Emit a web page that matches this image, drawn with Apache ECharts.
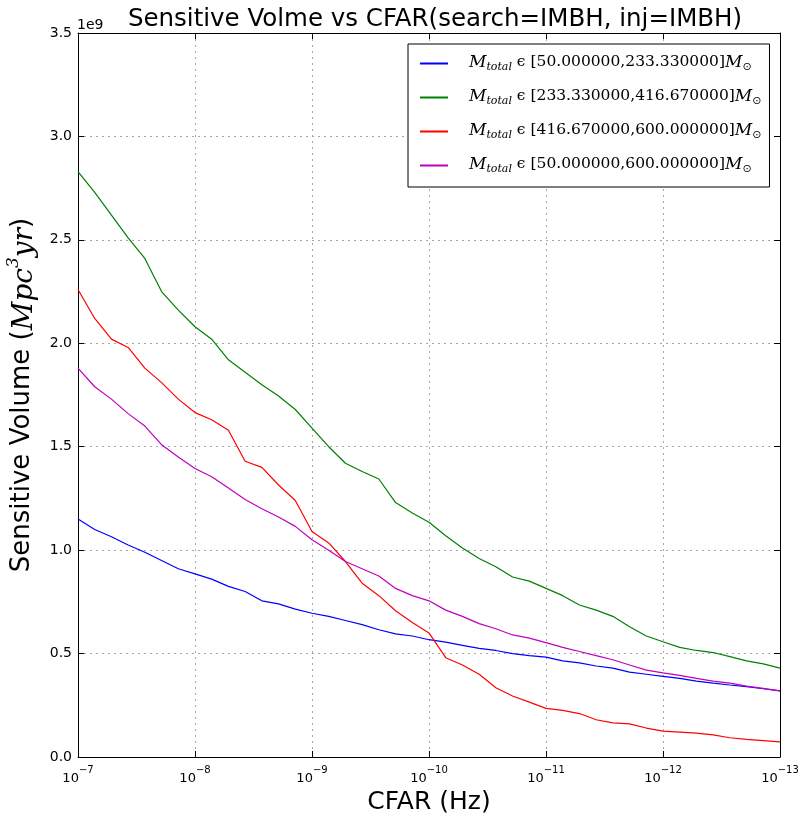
<!DOCTYPE html>
<html>
<head>
<meta charset="utf-8">
<script src="https://cdn.jsdelivr.net/npm/echarts@6/dist/echarts.min.js"></script>
<style>
  html, body { margin: 0; padding: 0; background: #fff; }
  #chart { width: 800px; height: 820px; }
</style>
</head>
<body>
<div id="chart"></div>
<script>
// CFAR (Hz), 7 points per decade from 1e-7 down to 1e-13
const cfar = [
  1e-7, 7.197e-8, 5.179e-8, 3.728e-8, 2.683e-8, 1.931e-8, 1.389e-8,
  1e-8, 7.197e-9, 5.179e-9, 3.728e-9, 2.683e-9, 1.931e-9, 1.389e-9,
  1e-9, 7.197e-10, 5.179e-10, 3.728e-10, 2.683e-10, 1.931e-10, 1.389e-10,
  1e-10, 7.197e-11, 5.179e-11, 3.728e-11, 2.683e-11, 1.931e-11, 1.389e-11,
  1e-11, 7.197e-12, 5.179e-12, 3.728e-12, 2.683e-12, 1.931e-12, 1.389e-12,
  1e-12, 7.197e-13, 5.179e-13, 3.728e-13, 2.683e-13, 1.931e-13, 1.389e-13,
  1e-13
];

// sensitive volume, units of 1e9 Mpc^3 yr
const volLow = [
  1.15, 1.10, 1.065, 1.025, 0.99, 0.95, 0.91,
  0.885, 0.86, 0.825, 0.80, 0.755, 0.74, 0.715,
  0.695, 0.68, 0.66, 0.64, 0.615, 0.595, 0.585,
  0.567, 0.555, 0.54, 0.525, 0.515, 0.50, 0.49,
  0.483, 0.465, 0.455, 0.44, 0.43, 0.41, 0.40,
  0.39, 0.38, 0.367, 0.357, 0.348, 0.34, 0.33,
  0.32
];
const volMid = [
  2.83, 2.73, 2.62, 2.51, 2.41, 2.25, 2.16,
  2.08, 2.02, 1.92, 1.86, 1.80, 1.745, 1.68,
  1.59, 1.50, 1.42, 1.38, 1.344, 1.23, 1.18,
  1.135, 1.07, 1.01, 0.96, 0.92, 0.87, 0.85,
  0.815, 0.78, 0.735, 0.71, 0.68, 0.63, 0.585,
  0.557, 0.53, 0.515, 0.505, 0.485, 0.465, 0.45,
  0.43
];
const volHigh = [
  2.26, 2.12, 2.02, 1.98, 1.88, 1.81, 1.73,
  1.665, 1.63, 1.58, 1.43, 1.40, 1.315, 1.24,
  1.09, 1.035, 0.945, 0.84, 0.78, 0.707, 0.65,
  0.60, 0.48, 0.445, 0.40, 0.335, 0.295, 0.265,
  0.235, 0.225, 0.21, 0.18, 0.165, 0.16, 0.14,
  0.125, 0.12, 0.115, 0.107, 0.093, 0.085, 0.079,
  0.073
];
const volAll = [
  1.88, 1.79, 1.73, 1.66, 1.60, 1.51, 1.45,
  1.395, 1.355, 1.30, 1.245, 1.20, 1.16, 1.115,
  1.05, 1.00, 0.945, 0.91, 0.875, 0.815, 0.78,
  0.755, 0.71, 0.68, 0.645, 0.62, 0.59, 0.575,
  0.553, 0.53, 0.51, 0.49, 0.47, 0.445, 0.42,
  0.407, 0.395, 0.38, 0.367, 0.357, 0.343, 0.332,
  0.32
];

const massRanges = [
  "50.000000,233.330000",
  "233.330000,416.670000",
  "416.670000,600.000000",
  "50.000000,600.000000"
];
const lineColors = ["#0000ff", "#008000", "#ff0000", "#bf00bf"];
const yTicks = [0, 0.5, 1.0, 1.5, 2.0, 2.5, 3.0, 3.5];

const chart = echarts.init(document.getElementById("chart"), null, { renderer: "canvas" });

const pairs = (ys) => cfar.map((x, i) => [x, ys[i]]);
const seriesValues = [volLow, volMid, volHigh, volAll];

const tickStyle = { show: true, inside: true, length: 6, lineStyle: { color: "#000", width: 1 } };
const gridLine = { show: true, lineStyle: { color: "#a8a8a8", type: [2, 4], width: 1 } };

const logAxis = {
  type: "log",
  logBase: 10,
  min: 1e-13,
  max: 1e-7,
  interval: 1,
  inverse: true,
  axisLine: { show: true, onZero: false, lineStyle: { color: "#000", width: 1 } },
  axisTick: tickStyle,
  minorTick: { show: false }
};
const valAxis = {
  type: "value",
  min: 0,
  max: 3.5,
  interval: 0.5,
  axisLine: { show: true, onZero: false, lineStyle: { color: "#000", width: 1 } },
  axisTick: tickStyle
};

const option = {
  animation: false,
  backgroundColor: "#fff",
  textStyle: { fontFamily: "DejaVu Sans" },
  title: {
    text: "Sensitive Volme vs CFAR(search=IMBH, inj=IMBH)",
    left: 430,
    textAlign: "center",
    top: 2,
    textStyle: { fontSize: 24.5, fontWeight: "normal", color: "#000", fontFamily: "DejaVu Sans" }
  },
  grid: { left: 78, right: 20, top: 33, bottom: 63, outerBoundsMode: "none" },
  graphic: [
    { type: "text", left: 77, top: 18, style: { text: "1e9", fontSize: 14, fill: "#000", fontFamily: "DejaVu Sans" } }
  ],
  legend: {
    orient: "vertical",
    left: 408,
    top: 44,
    padding: [10, 8, 12, 12],
    itemGap: 15,
    itemWidth: 28,
    itemHeight: 2,
    icon: "rect",
    backgroundColor: "#fff",
    borderColor: "#000",
    borderWidth: 1,
    borderRadius: 0,
    data: massRanges.map((r) => r),
    formatter: (name) => "{m|M}{s|total}{t| ϵ [" + name + "]}{m|M}{s2|⊙}",
    textStyle: {
      fontFamily: "DejaVu Serif",
      fontSize: 15,
      color: "#000",
      padding: [0, 0, 0, 16],
      rich: {
        m: { fontFamily: "DejaVu Serif", fontStyle: "italic", fontSize: 17, lineHeight: 19, verticalAlign: "top" },
        s: { fontFamily: "DejaVu Serif", fontStyle: "italic", fontSize: 11, lineHeight: 19, verticalAlign: "bottom" },
        s2: { fontFamily: "DejaVu Sans", fontSize: 11, lineHeight: 19, verticalAlign: "bottom" },
        t: { fontFamily: "DejaVu Serif", fontSize: 15.5, lineHeight: 19, verticalAlign: "top" }
      }
    }
  },
  xAxis: [
    Object.assign({}, logAxis, {
      position: "bottom",
      name: "CFAR (Hz)",
      nameLocation: "middle",
      nameGap: 28,
      nameTextStyle: { fontSize: 25, color: "#000", fontFamily: "DejaVu Sans" },
      splitLine: gridLine,
      axisLabel: {
        show: true,
        margin: 8,
        color: "#000",
        formatter: (v) => "{b|10}{e|\u2212" + Math.abs(Math.round(Math.log10(v))) + "}",
        rich: {
          b: { fontSize: 13, lineHeight: 20, verticalAlign: "bottom", fontFamily: "DejaVu Sans" },
          e: { fontSize: 10, lineHeight: 20, verticalAlign: "top", fontFamily: "DejaVu Sans" }
        }
      }
    }),
    Object.assign({}, logAxis, {
      position: "top",
      axisLabel: { show: false },
      splitLine: { show: false }
    })
  ],
  yAxis: [
    Object.assign({}, valAxis, {
      position: "left",
      name: "Sensitive Volume ({i|Mpc}{sup|3}{i|yr})",
      nameLocation: "middle",
      nameGap: 37,
      nameTextStyle: {
        fontSize: 26,
        color: "#000",
        fontFamily: "DejaVu Sans",
        rich: {
          i: { fontSize: 28, fontStyle: "italic", fontFamily: "DejaVu Serif", lineHeight: 34, verticalAlign: "bottom" },
          sup: { fontSize: 17, fontStyle: "italic", fontFamily: "DejaVu Serif", lineHeight: 34, verticalAlign: "top" }
        }
      },
      splitLine: gridLine,
      axisLabel: {
        show: true,
        margin: 6,
        color: "#000",
        fontSize: 14,
        formatter: (v) => (yTicks.includes(v) ? v.toFixed(1) : "")
      }
    }),
    Object.assign({}, valAxis, {
      position: "right",
      axisLabel: { show: false },
      splitLine: { show: false }
    })
  ],
  series: massRanges.map((name, k) => ({
    name: name,
    type: "line",
    xAxisIndex: 0,
    yAxisIndex: 0,
    symbol: "none",
    color: lineColors[k],
    lineStyle: { color: lineColors[k], width: 1.2 },
    data: pairs(seriesValues[k])
  }))
};

chart.setOption(option);
</script>
</body>
</html>
